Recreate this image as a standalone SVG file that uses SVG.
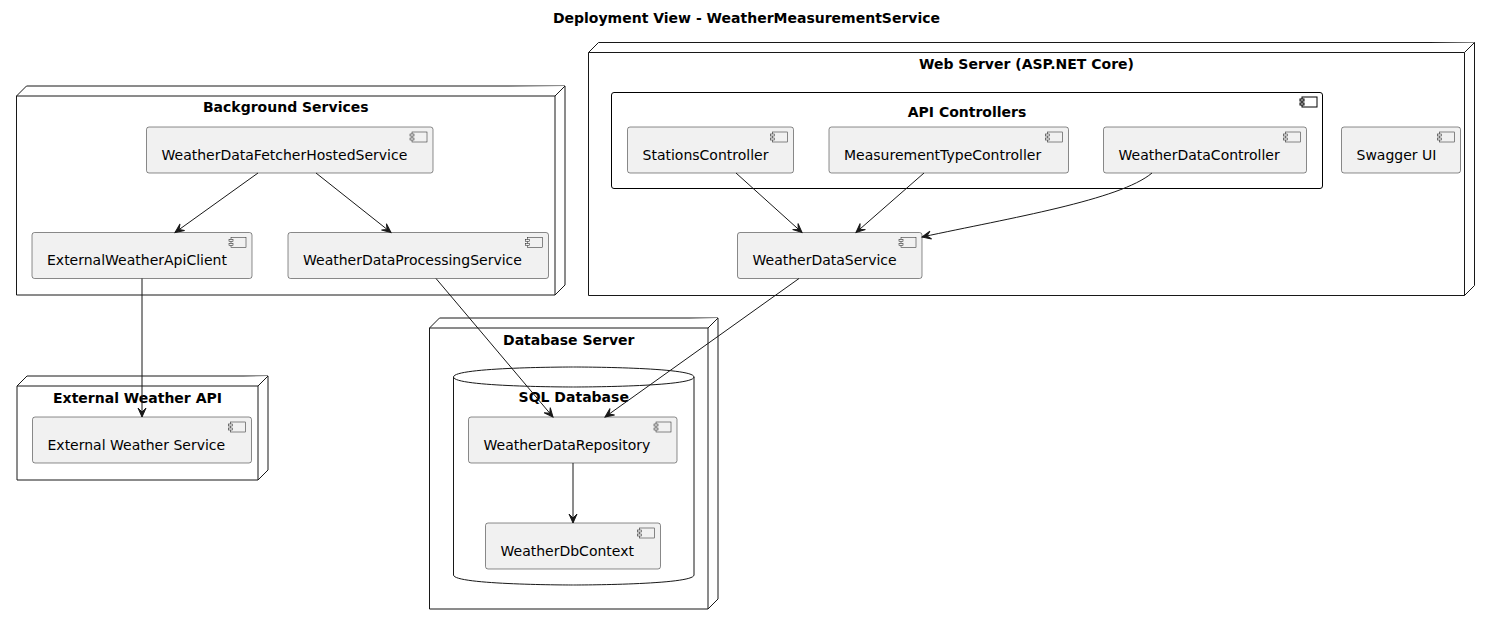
<svg xmlns="http://www.w3.org/2000/svg" width="1493" height="625" viewBox="0 0 1493 625">
<defs>
<style>
.node{fill:#FFFFFF;stroke:#181818;stroke-width:1}
.comp{fill:#F1F1F1;stroke:#181818;stroke-width:0.5}
.icon{fill:#F1F1F1;stroke:#181818;stroke-width:0.5}
.t{font-family:"DejaVu Sans",sans-serif;font-size:14px;fill:#000000}
.b{font-family:"DejaVu Sans",sans-serif;font-size:14px;font-weight:bold;fill:#000000;text-anchor:middle}
.edge{fill:none;stroke:#181818;stroke-width:1}
</style>
<marker id="ah" viewBox="-1 -1 12 10" refX="9" refY="4" markerWidth="12" markerHeight="10" markerUnits="userSpaceOnUse" orient="auto">
<path d="M0,0 L9,4 L0,8 L4,4 Z" fill="#181818" stroke="#181818" stroke-width="1"/>
</marker>
<g id="cicon">
<rect x="0" y="0" width="15" height="10" class="icon"/>
<rect x="-2" y="2" width="4" height="2" class="icon"/>
<rect x="-2" y="6" width="4" height="2" class="icon"/>
</g>
</defs>
<rect width="1493" height="625" fill="#FFFFFF"/>
<text class="b" x="746.5" y="23">Deployment View - WeatherMeasurementService</text>

<g id="node-background">
<path class="node" d="M16.5,96 L26.5,86 L565,86 L565,285 L555,295 L16.5,295 Z"/>
<path class="node" d="M16.5,96 L555,96 L565,86 M555,96 L555,295"/>
<text class="b" x="285.75" y="112">Background Services</text>
</g>

<g id="node-webserver">
<path class="node" d="M588.5,52.5 L598.5,42.5 L1474.5,42.5 L1474.5,285.5 L1464.5,295.5 L588.5,295.5 Z"/>
<path class="node" d="M588.5,52.5 L1464.5,52.5 L1474.5,42.5 M1464.5,52.5 L1464.5,295.5"/>
<text class="b" x="1026.5" y="69">Web Server (ASP.NET Core)</text>
</g>

<g id="node-external">
<path class="node" d="M17,386 L27,376 L268,376 L268,470 L258,480 L17,480 Z"/>
<path class="node" d="M17,386 L258,386 L268,376 M258,386 L258,480"/>
<text class="b" x="137.5" y="403">External Weather API</text>
</g>

<g id="node-database">
<path class="node" d="M429.5,328 L439.5,318 L718,318 L718,599 L708,609 L429.5,609 Z"/>
<path class="node" d="M429.5,328 L708,328 L718,318 M708,328 L708,609"/>
<text class="b" x="568.75" y="345">Database Server</text>
</g>

<g id="sql-database">
<path class="node" d="M453.5,377 C453.5,367 573.75,367 573.75,367 C573.75,367 694,367 694,377 L694,575 C694,585 573.75,585 573.75,585 C573.75,585 453.5,585 453.5,575 L453.5,377"/>
<path class="node" d="M453.5,377 C453.5,387 573.75,387 573.75,387 C573.75,387 694,387 694,377" style="fill:none"/>
<text class="b" x="573.75" y="402">SQL Database</text>
</g>

<g id="api-controllers">
<rect x="611.5" y="92.5" width="711" height="96" rx="2.5" fill="#FFFFFF" stroke="#000000" stroke-width="1"/>
<rect x="1302" y="97" width="15" height="10" fill="#FFFFFF" stroke="#000000" stroke-width="1"/>
<rect x="1300" y="99" width="4" height="2" fill="#FFFFFF" stroke="#000000" stroke-width="1"/>
<rect x="1300" y="103" width="4" height="2" fill="#FFFFFF" stroke="#000000" stroke-width="1"/>
<text class="b" x="967" y="117">API Controllers</text>
</g>

<g id="WeatherDataFetcherHostedService">
<rect class="comp" x="146.5" y="127" width="286.5" height="46" rx="2.5"/>
<use href="#cicon" x="412" y="132"/>
<text class="t" x="161.5" y="159.5">WeatherDataFetcherHostedService</text>
</g>
<g id="ExternalWeatherApiClient">
<rect class="comp" x="32" y="232.5" width="220" height="46" rx="2.5"/>
<use href="#cicon" x="231" y="237.5"/>
<text class="t" x="47" y="265">ExternalWeatherApiClient</text>
</g>
<g id="WeatherDataProcessingService">
<rect class="comp" x="288" y="232.5" width="260.5" height="46" rx="2.5"/>
<use href="#cicon" x="527.5" y="237.5"/>
<text class="t" x="303" y="265">WeatherDataProcessingService</text>
</g>
<g id="StationsController">
<rect class="comp" x="627.5" y="127" width="166" height="46" rx="2.5"/>
<use href="#cicon" x="772.5" y="132"/>
<text class="t" x="642.5" y="159.5">StationsController</text>
</g>
<g id="MeasurementTypeController">
<rect class="comp" x="829" y="127" width="239.5" height="46" rx="2.5"/>
<use href="#cicon" x="1047.5" y="132"/>
<text class="t" x="844" y="159.5">MeasurementTypeController</text>
</g>
<g id="WeatherDataController">
<rect class="comp" x="1103.5" y="127" width="203" height="46" rx="2.5"/>
<use href="#cicon" x="1285.5" y="132"/>
<text class="t" x="1118.5" y="159.5">WeatherDataController</text>
</g>
<g id="SwaggerUI">
<rect class="comp" x="1341.5" y="127" width="119" height="46" rx="2.5"/>
<use href="#cicon" x="1439.5" y="132"/>
<text class="t" x="1356.5" y="159.5">Swagger UI</text>
</g>
<g id="WeatherDataService">
<rect class="comp" x="737.5" y="232.5" width="184.5" height="46" rx="2.5"/>
<use href="#cicon" x="901" y="237.5"/>
<text class="t" x="752.5" y="265">WeatherDataService</text>
</g>
<g id="ExternalWeatherService">
<rect class="comp" x="32.5" y="417" width="219" height="46" rx="2.5"/>
<use href="#cicon" x="230.5" y="422"/>
<text class="t" x="47.5" y="449.5">External Weather Service</text>
</g>
<g id="WeatherDataRepository">
<rect class="comp" x="468.5" y="417" width="208.5" height="46" rx="2.5"/>
<use href="#cicon" x="656" y="422"/>
<text class="t" x="483.5" y="449.5">WeatherDataRepository</text>
</g>
<g id="WeatherDbContext">
<rect class="comp" x="485.5" y="523" width="175" height="46" rx="2.5"/>
<use href="#cicon" x="639.5" y="528"/>
<text class="t" x="500.5" y="555.5">WeatherDbContext</text>
</g>

<g id="connectors">
<path class="edge" marker-end="url(#ah)" d="M258,173 L175,232.5"/>
<path class="edge" marker-end="url(#ah)" d="M316,173 L391,232.5"/>
<path class="edge" marker-end="url(#ah)" d="M142,278.5 L142,417"/>
<path class="edge" marker-end="url(#ah)" d="M436,278.5 L553,417"/>
<path class="edge" marker-end="url(#ah)" d="M799,278.5 L605,417"/>
<path class="edge" marker-end="url(#ah)" d="M573,463 L573,523"/>
<path class="edge" marker-end="url(#ah)" d="M736,173 L802,232.5"/>
<path class="edge" marker-end="url(#ah)" d="M924,173 L856,232.5"/>
<path class="edge" marker-end="url(#ah)" d="M1152,173 C1120,200 1010,218 922,237"/>
</g>
</svg>
